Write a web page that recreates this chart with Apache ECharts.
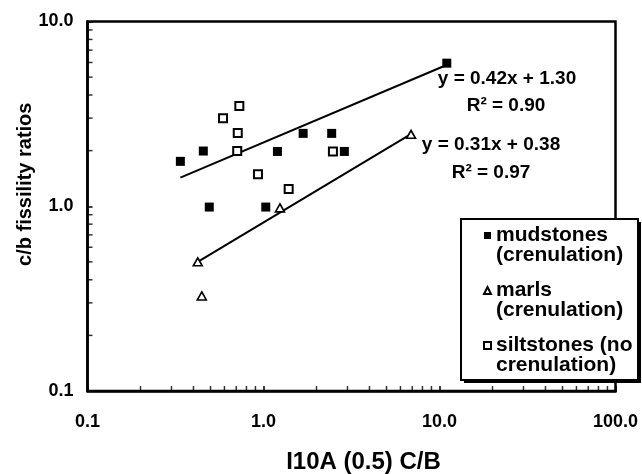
<!DOCTYPE html>
<html>
<head>
<meta charset="utf-8">
<script src="https://cdn.jsdelivr.net/npm/echarts@6/dist/echarts.min.js"></script>
<style>
  html, body { margin: 0; padding: 0; background: #fff; }
  #chart { width: 642px; height: 474px; }
</style>
</head>
<body>
<div id="chart"></div>
<script>
// mudstones (crenulation)
const mudX = [0.337, 0.455, 0.492, 1.03, 1.20, 1.68, 2.44, 2.88, 11.0];
const mudY = [1.75, 1.99, 0.99, 0.99, 1.98, 2.48, 2.48, 1.98, 5.95];
// marls (crenulation)
const marlX = [0.423, 0.446, 1.24, 6.89];
const marlY = [0.50, 0.327, 0.98, 2.45];
// siltstones (no crenulation)
const siltX = [0.729, 0.589, 0.714, 0.709, 0.93, 1.39, 2.48];
const siltY = [3.49, 2.99, 2.49, 1.99, 1.49, 1.24, 1.98];
// fitted lines (end points)
const mudFitX = [0.337, 10.8];
const mudFitY = [1.43, 5.78];
const marlFitX = [0.423, 6.69];
const marlFitY = [0.50, 2.42];

const seriesNames = ['mudstones\n(crenulation)', 'marls\n(crenulation)', 'siltstones (no\ncrenulation)'];
const xTickLabels = ['0.1', '1.0', '10.0', '100.0'];
const yTickLabels = ['0.1', '1.0', '10.0'];
const xMinorTicks = [0.2, 0.3, 0.4, 0.5, 0.6, 0.7, 0.8, 0.9, 2, 3, 4, 5, 6, 7, 8, 9, 20, 30, 40, 50, 60, 70, 80, 90];
const yMinorTicks = [0.2, 0.3, 0.4, 0.5, 0.6, 0.7, 0.8, 0.9, 2, 3, 4, 5, 6, 7, 8, 9];

const zip = (xs, ys) => xs.map((x, i) => [x, ys[i]]);
const font = 'Liberation Sans, Arial, sans-serif';
const decade = v => Math.round(Math.log10(v)) + 1;

const chart = echarts.init(document.getElementById('chart'));

const eqText = (x, y, text) => ({
  type: 'text', z: 10, x, y, silent: true,
  style: { text, font: 'bold 19px ' + font, fill: '#000', align: 'center', verticalAlign: 'middle' }
});

chart.setOption({
  animation: false,
  grid: {
    left: 87.5, right: 26.5, top: 21.5, bottom: 83,
    outerBoundsMode: 'none',
    show: true, borderColor: '#000', borderWidth: 2.5, backgroundColor: 'transparent'
  },
  xAxis: {
    type: 'log', logBase: 10, min: 0.1, max: 100,
    name: 'I10A (0.5) C/B', nameLocation: 'middle', nameGap: 59, nameMoveOverlap: false,
    nameTextStyle: { fontFamily: font, fontWeight: 'bold', fontSize: 24, color: '#000', padding: [0, 0, 0, 24] },
    axisLine: { lineStyle: { color: '#000', width: 2.5 } },
    axisTick: { inside: true, length: 5, lineStyle: { color: '#000', width: 1.5 } },
    axisLabel: {
      margin: 22, fontFamily: font, fontWeight: 'bold', fontSize: 18, color: '#000',
      formatter: v => xTickLabels[decade(v)]
    },
    splitLine: { show: false }
  },
  yAxis: {
    type: 'log', logBase: 10, min: 0.1, max: 10,
    name: 'c/b fissility ratios', nameLocation: 'middle', nameGap: 52, nameMoveOverlap: false,
    nameTextStyle: { fontFamily: font, fontWeight: 'bold', fontSize: 20, color: '#000', padding: [0, 0, 0, 44] },
    axisLine: { lineStyle: { color: '#000', width: 2.5 } },
    axisTick: { inside: true, length: 5, lineStyle: { color: '#000', width: 1.5 } },
    axisLabel: {
      margin: 14, fontFamily: font, fontWeight: 'bold', fontSize: 18, color: '#000',
      formatter: v => yTickLabels[decade(v)]
    },
    splitLine: { show: false }
  },
  legend: {
    left: 483, top: 205, orient: 'vertical', padding: 0, itemGap: -6,
    itemWidth: 7, itemHeight: 7, z: 20,
    data: [
      { name: seriesNames[0], icon: 'rect' },
      { name: seriesNames[1], icon: 'triangle' },
      { name: seriesNames[2], icon: 'rect' }
    ],
    // empty first line keeps the symbol level with the first text line
    formatter: name => '\n' + name,
    textStyle: { fontFamily: font, fontWeight: 'bold', fontSize: 21, color: '#000', lineHeight: 20 }
  },
  graphic: [
    // legend box: hard shadow then white framed box
    { type: 'rect', z: 10, silent: true, shape: { x: 464, y: 222, width: 177, height: 161 }, style: { fill: '#000' } },
    { type: 'rect', z: 10, silent: true, shape: { x: 461, y: 219, width: 177, height: 161 }, style: { fill: '#fff', stroke: '#000', lineWidth: 2 } },
    eqText(507, 79, 'y = 0.42x + 1.30'),
    eqText(506, 106, 'R² = 0.90'),
    eqText(491, 145, 'y = 0.31x + 0.38'),
    eqText(491, 173, 'R² = 0.97')
  ],
  series: [
    {
      name: 'mudFit', type: 'line', data: zip(mudFitX, mudFitY), symbol: 'none', silent: true,
      lineStyle: { color: '#000', width: 2 }, z: 2
    },
    {
      name: 'marlFit', type: 'line', data: zip(marlFitX, marlFitY), symbol: 'none', silent: true,
      lineStyle: { color: '#000', width: 2 }, z: 2
    },
    {
      name: seriesNames[0], type: 'scatter', data: zip(mudX, mudY), symbol: 'rect', symbolSize: 9, clip: false,
      itemStyle: { color: '#000', opacity: 1 }, z: 3
    },
    {
      name: seriesNames[1], type: 'scatter', data: zip(marlX, marlY), symbol: 'triangle', symbolSize: [9, 8], clip: false,
      itemStyle: { color: '#fff', borderColor: '#000', borderWidth: 1.6, opacity: 1 }, z: 3
    },
    {
      name: seriesNames[2], type: 'scatter', data: zip(siltX, siltY), symbol: 'rect', symbolSize: 8, clip: false,
      itemStyle: { color: '#fff', borderColor: '#000', borderWidth: 2, opacity: 1 }, z: 3
    },
    {
      name: 'xMinor', type: 'scatter', data: xMinorTicks.map(v => [v, 0.1]), symbol: 'rect',
      symbolSize: [1.5, 5], symbolOffset: [0, -2.5], clip: false, silent: true,
      itemStyle: { color: '#000' }, z: 4
    },
    {
      name: 'yMinor', type: 'scatter', data: yMinorTicks.map(v => [0.1, v]), symbol: 'rect',
      symbolSize: [5, 1.5], symbolOffset: [2.5, 0], clip: false, silent: true,
      itemStyle: { color: '#000' }, z: 4
    }
  ]
});
</script>
</body>
</html>
